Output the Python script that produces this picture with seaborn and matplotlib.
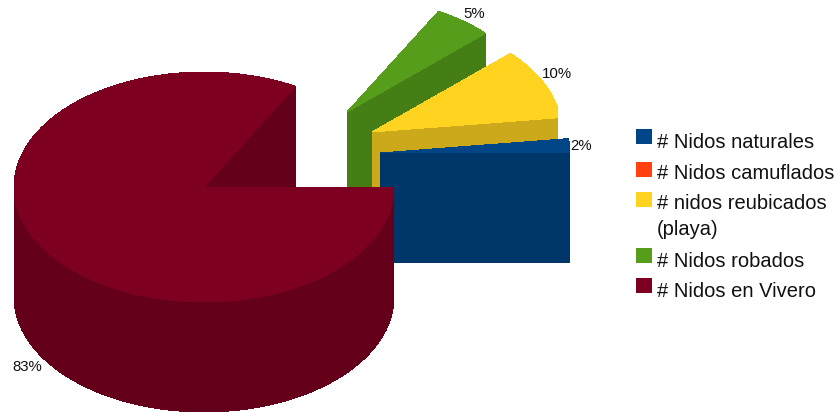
import numpy as np
import matplotlib
matplotlib.use("Agg")
import matplotlib.pyplot as plt
from matplotlib.patches import Polygon
from matplotlib.transforms import Bbox, TransformedBbox
import seaborn as sns

# Nest counts by type, as percentages of the total
categories = ["# Nidos naturales", "# Nidos camuflados", "# nidos reubicados\n(playa)",
              "# Nidos robados", "# Nidos en Vivero"]
shares = [2, 0, 10, 5, 83]
share_labels = ["2%", "", "10%", "5%", "83%"]
top_colors = ["#004586", "#FF420E", "#FFD320", "#579D1C", "#7E0021"]

sns.set_theme(style="white")
plt.rcParams["font.family"] = ["Liberation Sans", "DejaVu Sans"]

palette = sns.color_palette(top_colors)
side_palette = [tuple(c * 0.8 for c in col) for col in palette]

# Exploded wedge centres in pixels, with the shared ellipse and extrusion depth
centres = [(380, 153), (380, 153), (372, 132), (347, 112), (204, 187)]
right_limits = [570, 570, 558, 839, 839]
RX, RY, DEPTH = 190, 115, 110

fig = plt.figure(figsize=(8.39, 4.12), dpi=100)
ax = fig.add_axes([0, 0, 1, 1])
ax.set_xlim(0, 839)
ax.set_ylim(412, 0)
ax.axis("off")


def rim(cx, cy, a0, a1, dy=0):
    t = np.radians(np.linspace(a0, a1, max(int(abs(a1 - a0) * 3), 2)))
    return np.column_stack([cx + RX * np.cos(t), cy - RY * np.sin(t) + dy])


def fill(points, color, z, right=839):
    patch = Polygon(points, closed=True, facecolor=color, edgecolor="none",
                    antialiased=False, zorder=z)
    ax.add_patch(patch)
    # Wedges end on a straight vertical edge on their right side
    patch.set_clip_box(TransformedBbox(Bbox([[0, 0], [right, 412]]), ax.transData))


bounds = np.concatenate([[0], np.cumsum(shares)]) * 3.6
draw_order = [3, 2, 0, 1, 4]

for z, i in enumerate(draw_order):
    if shares[i] == 0:
        continue
    a0, a1 = bounds[i], bounds[i + 1]
    cx, cy = centres[i]
    base = 10 * z
    right = right_limits[i]

    # Outer wall, only where the rim faces the viewer
    lo, hi = max(a0, 180), min(a1, 360)
    if hi > lo:
        edge = rim(cx, cy, lo, hi)
        fill(np.vstack([edge, rim(cx, cy, hi, lo, DEPTH)]), side_palette[i], base, right)

    # Radial wall at the start of the wedge
    start = rim(cx, cy, a0, a0 + 1e-6)[0]
    fill([(cx, cy), start, (start[0], start[1] + DEPTH), (cx, cy + DEPTH)],
         side_palette[i], base + 1, right)

    # Top face
    fill(np.vstack([[(cx, cy)], rim(cx, cy, a0, a1)]), palette[i], base + 2, right)

# Percentage labels beside each wedge
label_spots = {0: (581, 146), 2: (557, 74), 3: (474, 14), 4: (27, 367)}
for i, (x, y) in label_spots.items():
    ax.text(x, y, share_labels[i], ha="center", va="center", fontsize=10.8,
            color="#111111", zorder=100)

# Legend column on the right
swatch_tops = [129, 162, 192, 248, 278]
text_baselines = [148, 179, 209, 267, 297]
for i, (top, base) in enumerate(zip(swatch_tops, text_baselines)):
    fill([(636, top), (652, top), (652, top + 15), (636, top + 15)], palette[i], 90)
    for k, line in enumerate(categories[i].split("\n")):
        ax.text(657, base + 26 * k, line, ha="left", va="baseline", fontsize=14.5,
                color="#111111", zorder=100)

fig.savefig("out.png", dpi=100, facecolor="white")
